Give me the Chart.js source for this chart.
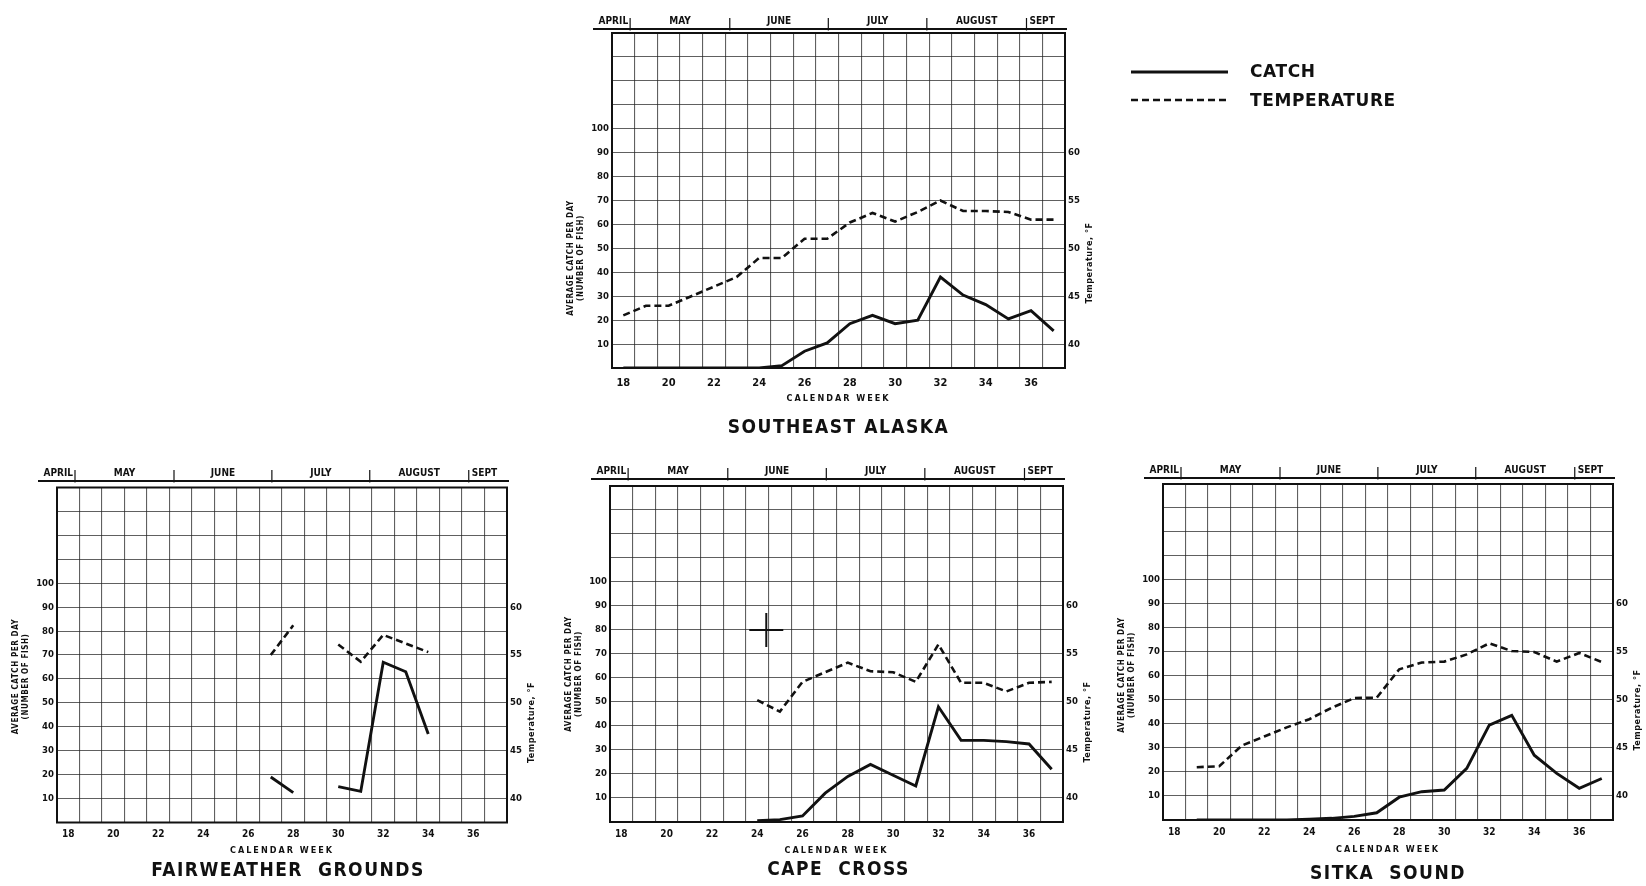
<!DOCTYPE html>
<html>
<head>
<meta charset="utf-8">
<script src="https://cdn.jsdelivr.net/npm/chart.js@4.4.1/dist/chart.umd.min.js"></script>
<style>
html,body{margin:0;padding:0;background:#fff;width:1646px;height:886px;overflow:hidden;}
canvas{position:absolute;left:0;top:0;}
.lg{position:absolute;font:bold 17px "DejaVu Sans","Liberation Sans",sans-serif;line-height:17px;color:#111;letter-spacing:0.6px;white-space:nowrap;}
</style>
</head>
<body>
<canvas id="cSE" width="1646" height="886"></canvas>
<canvas id="cFW" width="1646" height="886"></canvas>
<canvas id="cCC" width="1646" height="886"></canvas>
<canvas id="cSS" width="1646" height="886"></canvas>
<svg style="position:absolute;left:1131px;top:58px" width="100" height="50">
  <line x1="0" y1="14" x2="97" y2="14" stroke="#111" stroke-width="2.8"/>
  <line x1="0" y1="42" x2="97" y2="42" stroke="#111" stroke-width="2.4" stroke-dasharray="7 4"/>
</svg>
<div class="lg" style="left:1250px;top:63px">CATCH</div>
<div class="lg" style="left:1250px;top:92px">TEMPERATURE</div>
<script>
// ---------- data ----------
const weeks = [18,19,20,21,22,23,24,25,26,27,28,29,30,31,32,33,34,35,36,37];
const weekTickLabels = [18,20,22,24,26,28,30,32,34,36];
const catchGridValues = [0,10,20,30,40,50,60,70,80,90,100,110,120,130,140];
const catchTickLabels = [10,20,30,40,50,60,70,80,90,100];
const tempTickLabels = [40,45,50,55,60];
const monthNames = ['APRIL','MAY','JUNE','JULY','AUGUST','SEPT'];
const monthBounds = [18.3,22.7,27.05,31.4,35.8];

// Southeast Alaska
const catchSE = [0,0,0,0,0,0,0,1,7,10.5,18.5,22,18.5,20,38,30.5,26.5,20.5,24,15.5];
const tempSE  = [43.0,44.0,44.0,45.0,46.0,47.0,49.0,49.0,51.0,51.0,52.7,53.7,52.8,53.8,55.0,53.9,53.9,53.8,53.0,53.0];
// Fairweather Grounds
const catchFW = [null,null,null,null,null,null,null,null,null,19,12.5,null,15,13,67,63,37,null,null,null];
const tempFW  = [null,null,null,null,null,null,null,null,null,55.0,58.1,null,56.1,54.3,57.1,56.2,55.3,null,null,null];
// Cape Cross
const catchCC = [null,null,null,null,null,null,0.5,1,2.5,12,19,24,19.5,15,48,34,34,33.5,32.5,22];
const tempCC  = [null,null,null,null,null,null,50.2,49.0,52.1,53.1,54.1,53.2,53.1,52.1,56.0,52.0,52.0,51.1,52.0,52.1];
const crossMarkWeek = [24.4];
const crossMarkCatch = [80];
// Sitka Sound
const catchSS = [null,0,0,0,0,0,0.3,0.7,1.5,3,9.5,11.8,12.5,21.5,39.5,43.6,27,19.4,13.2,17.3];
const tempSS  = [null,43.0,43.1,45.25,46.2,47.15,48.0,49.2,50.2,50.25,53.2,53.9,54.0,54.75,55.9,55.1,55.0,54.0,54.9,53.95];

// ---------- style / layout ----------
const FONT = '"DejaVu Sans Condensed","Liberation Sans Narrow","DejaVu Sans",sans-serif';
const INK = '#111';
const GRID = 'rgba(35,35,35,0.72)';
Chart.defaults.font.family = FONT;
Chart.defaults.color = INK;

const decor = {
  id: 'decor',
  afterDraw(chart, args, o) {
    const {ctx, chartArea: a} = chart;
    const xs = chart.scales.x;
    ctx.save();
    ctx.strokeStyle = INK; ctx.fillStyle = INK;
    // frame
    ctx.lineWidth = 2;
    ctx.strokeRect(a.left, a.top, a.right - a.left, a.bottom - a.top);
    // month header
    const hy = a.top - o.headGap;
    ctx.lineWidth = 1.8;
    ctx.beginPath(); ctx.moveTo(a.left - 19, hy); ctx.lineTo(a.right + 2, hy); ctx.stroke();
    ctx.lineWidth = 1.2;
    const bpx = monthBounds.map(b => xs.getPixelForValue(b));
    bpx.forEach(px => { ctx.beginPath(); ctx.moveTo(px, hy - 11); ctx.lineTo(px, hy + 1.5); ctx.stroke(); });
    ctx.font = 'bold 10px ' + FONT;
    ctx.textBaseline = 'alphabetic';
    const ty = hy - 5;
    ctx.textAlign = 'right'; ctx.fillText(monthNames[0], bpx[0] - 2, ty);
    ctx.textAlign = 'center';
    for (let i = 1; i < monthNames.length - 1; i++) ctx.fillText(monthNames[i], (bpx[i-1] + bpx[i]) / 2, ty);
    ctx.textAlign = 'left'; ctx.fillText(monthNames[monthNames.length - 1], bpx[bpx.length - 1] + 3, ty);
    // left axis title (two lines, rotated)
    ctx.font = 'bold 8px ' + FONT;
    ctx.textAlign = 'center'; ctx.textBaseline = 'middle';
    const ly = a.bottom - o.ltY;
    [['AVERAGE CATCH PER DAY', -41], ['(NUMBER OF FISH)', -31]].forEach(([t, dx]) => {
      ctx.save(); ctx.translate(a.left + dx, ly); ctx.rotate(-Math.PI / 2);
      ctx.letterSpacing = '0.6px'; ctx.fillText(t, 0, 0); ctx.restore();
    });
    // right axis title
    ctx.save(); ctx.translate(a.right + 25, a.bottom - o.rtY); ctx.rotate(-Math.PI / 2);
    ctx.font = 'bold 9px ' + FONT; ctx.letterSpacing = '0.5px';
    ctx.fillText('Temperature, \u00B0F', 0, 0); ctx.restore();
    // x axis title
    const cx = (a.left + a.right) / 2;
    ctx.save(); ctx.font = 'bold 9px ' + FONT; ctx.letterSpacing = '2px';
    ctx.fillText('CALENDAR WEEK', cx, a.bottom + o.xtY); ctx.restore();
    // panel title
    ctx.save(); ctx.font = 'bold 19px ' + FONT; ctx.letterSpacing = '1.5px';
    ctx.fillText(o.title, cx + (o.titleDx || 0), a.bottom + o.titleY); ctx.restore();
    ctx.restore();
  }
};

const xTickValues = weeks.flatMap(w => [w, w + 0.5]).filter(v => v < 37.5);

function makeChart(id, catchData, tempData, L, extra) {
  const W = 1646, H = 886, YW = 44, Y2W = 30, XH = 22;
  const tickFont = {size: 9.5, weight: 'bold'};
  const datasets = [
    {label: 'CATCH', data: weeks.map((w, i) => ({x: w, y: catchData[i]})), yAxisID: 'y',
     borderColor: INK, borderWidth: 2.9, pointRadius: 0, tension: 0, spanGaps: false, fill: false},
    {label: 'TEMPERATURE', data: weeks.map((w, i) => ({x: w, y: tempData[i]})), yAxisID: 'y2',
     borderColor: INK, borderWidth: 2.6, borderDash: [7, 4], pointRadius: 0, tension: 0, spanGaps: false, fill: false}
  ];
  if (extra) datasets.push(extra);
  new Chart(document.getElementById(id), {
    type: 'line',
    data: {datasets},
    options: {
      responsive: false, animation: false, events: [],
      layout: {padding: {left: L.left - YW, right: W - L.right - Y2W, top: L.top, bottom: H - L.bottom - XH}},
      plugins: {legend: {display: false}, tooltip: {enabled: false}, decor: L},
      scales: {
        x: {
          type: 'linear', min: 17.5, max: 37.5,
          afterFit(s) { s.height = XH; },
          afterBuildTicks(s) { s.ticks = xTickValues.map(v => ({value: v})); },
          grid: {color: c => (c.tick && c.tick.value % 1 !== 0) ? GRID : 'rgba(0,0,0,0)', lineWidth: 1.1, drawTicks: false},
          border: {display: false},
          ticks: {autoSkip: false, maxRotation: 0, padding: L.xpad, color: INK,
                  font: {size: L.xfont, weight: 'bold'},
                  callback: v => weekTickLabels.includes(v) ? String(v) : ''}
        },
        y: {
          min: 0, max: 140,
          afterFit(s) { s.width = YW; },
          afterBuildTicks(s) { s.ticks = catchGridValues.map(v => ({value: v})); },
          grid: {color: c => (c.tick && c.tick.value > 0 && c.tick.value < 140) ? GRID : 'rgba(0,0,0,0)', lineWidth: 1.1, drawTicks: false},
          border: {display: false},
          ticks: {padding: 3, color: INK, font: tickFont,
                  callback: v => catchTickLabels.includes(v) ? String(v) : ''}
        },
        y2: {
          position: 'right', min: 37.5, max: 72.5,
          afterFit(s) { s.width = Y2W; },
          afterBuildTicks(s) { s.ticks = tempTickLabels.map(v => ({value: v})); },
          grid: {display: false, drawTicks: false},
          border: {display: false},
          ticks: {padding: 3, color: INK, font: tickFont, callback: v => String(v)}
        }
      }
    },
    plugins: [decor]
  });
}

const crossMark = {
  label: 'marker', type: 'scatter', yAxisID: 'y',
  data: crossMarkWeek.map((w, i) => ({x: w, y: crossMarkCatch[i]})),
  pointStyle: 'cross', pointRadius: 17, borderColor: INK, borderWidth: 2, showLine: false
};

makeChart('cSE', catchSE, tempSE, {left: 612, right: 1065, top: 33, bottom: 368, xpad: 9, xfont: 11, headGap: 4, ltY: 110, rtY: 105, xtY: 31, titleY: 60, title: 'SOUTHEAST ALASKA'});
makeChart('cFW', catchFW, tempFW, {left: 57, right: 507, top: 487.5, bottom: 822.5, xpad: 6, xfont: 10, headGap: 6.5, ltY: 146, rtY: 100, xtY: 28, titleY: 49, titleDx: 6, title: 'FAIRWEATHER  GROUNDS'});
makeChart('cCC', catchCC, tempCC, {left: 610, right: 1063, top: 486, bottom: 822, xpad: 6, xfont: 10, headGap: 7, ltY: 148, rtY: 100, xtY: 29, titleY: 48, titleDx: 2, title: 'CAPE  CROSS'}, crossMark);
makeChart('cSS', catchSS, tempSS, {left: 1163, right: 1613, top: 484, bottom: 820, xpad: 6, xfont: 10, headGap: 6, ltY: 145, rtY: 110, xtY: 30, titleY: 54, title: 'SITKA  SOUND'});
</script>
</body>
</html>
